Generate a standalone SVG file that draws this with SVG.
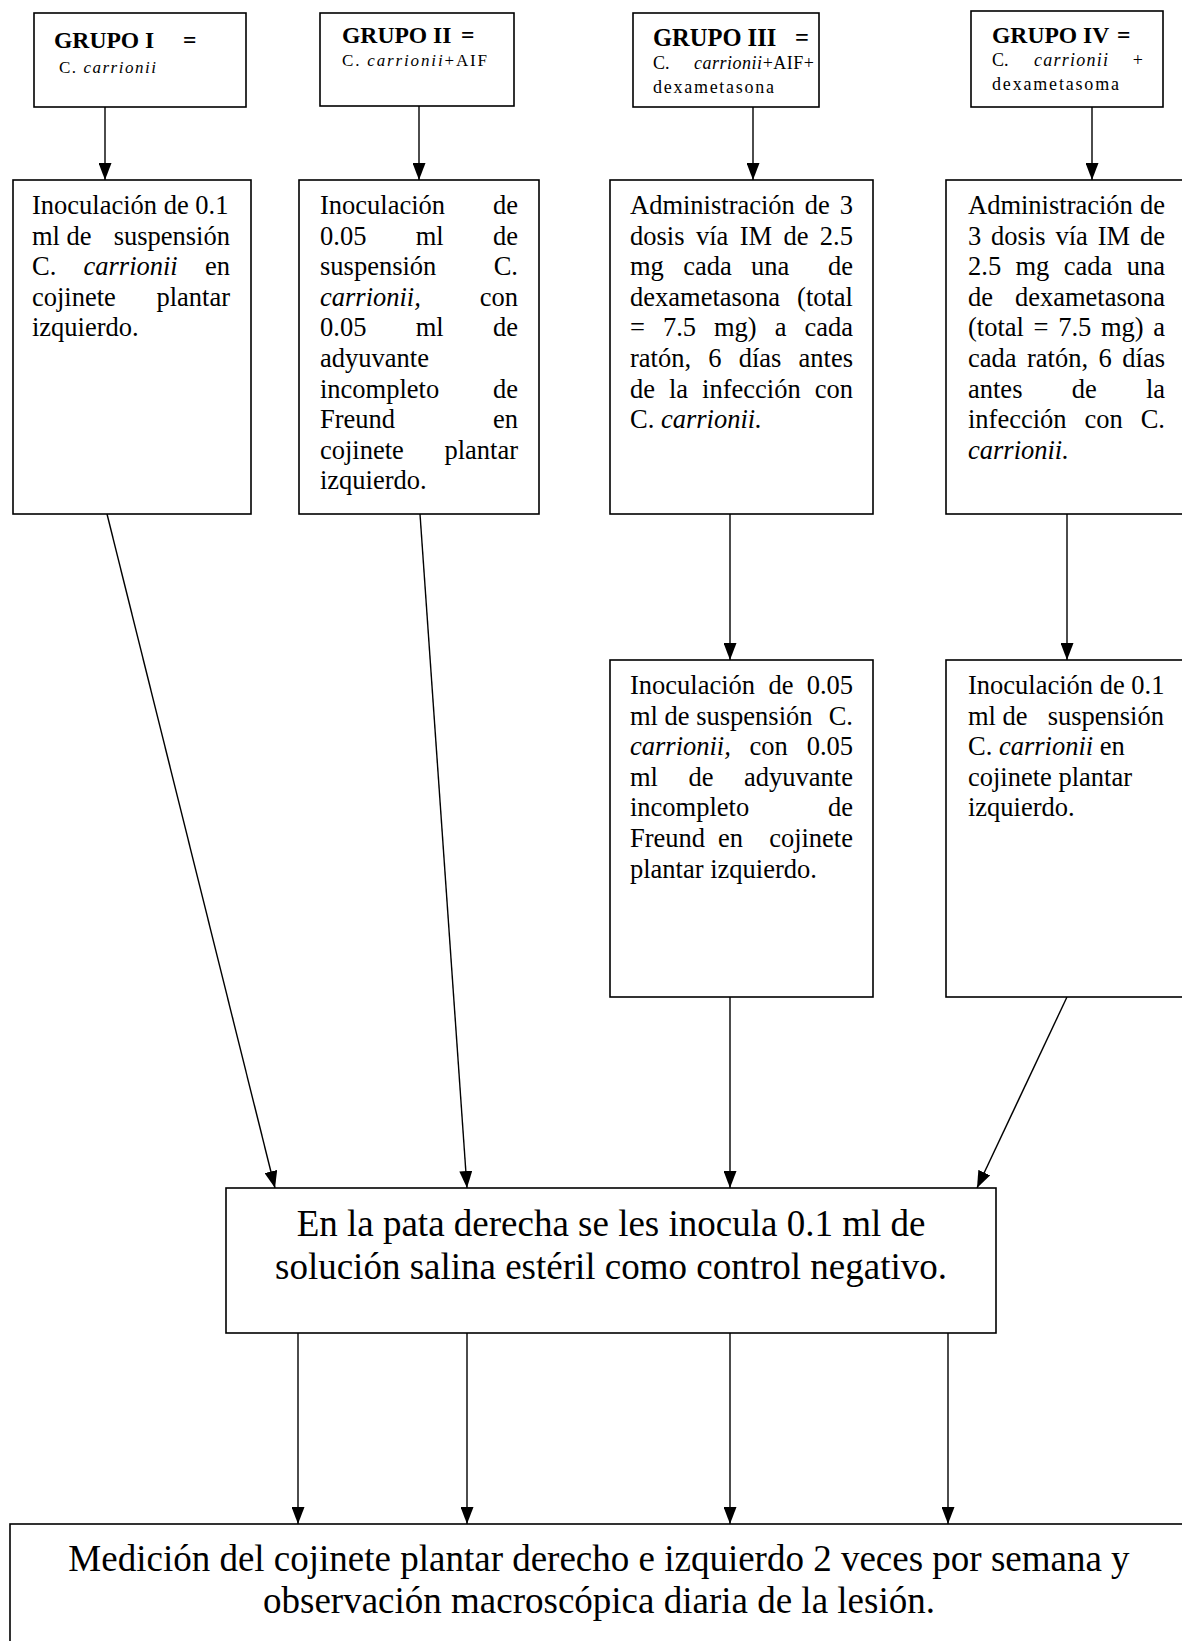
<svg xmlns="http://www.w3.org/2000/svg" width="1182" height="1641" viewBox="0 0 1182 1641">
<defs>
<marker id="ah" markerUnits="userSpaceOnUse" markerWidth="17" markerHeight="13" refX="17" refY="6.5" orient="auto">
<path d="M0,0 L17,6.5 L0,13 z" fill="#000"/>
</marker>
<style>
rect{fill:#fff;stroke:#000;stroke-width:1.6}
.c line{stroke:#000;stroke-width:1.4;marker-end:url(#ah)}
text{font-family:"Liberation Serif","Times New Roman",serif;fill:#000}
.h{font-weight:bold;font-size:23.6px}
.s{font-size:17px}
.t{font-size:26.5px}
.b{font-size:37px;text-anchor:middle}
.e{text-anchor:end}
.i{font-style:italic}
</style>
</defs>
<rect x="0" y="0" width="1182" height="1641" style="stroke:none"/>

<g class="c" id="connectors">
<line x1="105" y1="107" x2="105" y2="180"/>
<line x1="419" y1="106" x2="419" y2="180"/>
<line x1="753" y1="107" x2="753" y2="180"/>
<line x1="1092" y1="107" x2="1092" y2="180"/>
<line x1="730" y1="514" x2="730" y2="660"/>
<line x1="1067" y1="514" x2="1067" y2="660"/>
<line x1="107" y1="514" x2="275" y2="1188"/>
<line x1="420" y1="514" x2="467" y2="1188"/>
<line x1="730" y1="997" x2="730" y2="1188"/>
<line x1="1067" y1="997" x2="977" y2="1188"/>
<line x1="298" y1="1333" x2="298" y2="1524"/>
<line x1="467" y1="1333" x2="467" y2="1524"/>
<line x1="730" y1="1333" x2="730" y2="1524"/>
<line x1="948" y1="1333" x2="948" y2="1524"/>
</g>

<g id="g1">
<rect x="34" y="13" width="212" height="94"/>
<text class="h" x="54" y="48">GRUPO I</text><text class="h" x="183" y="48">=</text>
<text class="s" x="59" y="73" textLength="97" lengthAdjust="spacing">C. <tspan class="i">carrionii</tspan></text>
</g>
<g id="g2">
<rect x="320" y="13" width="194" height="93"/>
<text class="h" x="342" y="43">GRUPO II</text><text class="h" x="461" y="43">=</text>
<text class="s" x="342" y="66" textLength="145" lengthAdjust="spacing">C. <tspan class="i">carrionii</tspan>+AIF</text>
</g>
<g id="g3">
<rect x="633" y="13" width="186" height="94"/>
<text class="h" x="653" y="46" style="font-size:24.5px">GRUPO III</text><text class="h" x="795" y="46" style="font-size:24.5px">=</text>
<text class="s" x="653" y="69" style="font-size:18px">C.</text><text class="s i" x="694" y="69" style="font-size:18px" textLength="120" lengthAdjust="spacing">carrionii<tspan style="font-style:normal">+AIF+</tspan></text>
<text class="s" x="653" y="93" style="font-size:18px" textLength="121" lengthAdjust="spacing">dexametasona</text>
</g>
<g id="g4">
<rect x="971" y="11" width="192" height="96"/>
<text class="h" x="992" y="43">GRUPO IV</text><text class="h" x="1117" y="43">=</text>
<text class="s" x="992" y="66" style="font-size:18px">C.</text><text class="s i" x="1034" y="66" style="font-size:18px" textLength="74" lengthAdjust="spacing">carrionii</text><text class="s" x="1143" y="66" style="font-size:18px" text-anchor="end">+</text>
<text class="s" x="992" y="90" style="font-size:18px" textLength="127" lengthAdjust="spacing">dexametasoma</text>
</g>

<g id="b1">
<rect x="13" y="180" width="238" height="334"/>
<text class="t" x="32" y="214">Inoculación de 0.1</text>
<text class="t" x="32" y="244.6">ml de</text><text class="t e" x="230" y="244.6">suspensión</text>
<text class="t" x="32" y="275.2">C.</text><text class="t i" x="83.5" y="275.2">carrionii</text><text class="t e" x="230" y="275.2">en</text>
<text class="t" x="32" y="305.8">cojinete</text><text class="t e" x="230" y="305.8">plantar</text>
<text class="t" x="32" y="336.4">izquierdo.</text>
</g>

<g id="b2">
<rect x="299" y="180" width="240" height="334"/>
<text class="t" x="320" y="214">Inoculación</text><text class="t e" x="518" y="214">de</text>
<text class="t" x="320" y="244.6">0.05</text><text class="t" x="415.7" y="244.6">ml</text><text class="t e" x="518" y="244.6">de</text>
<text class="t" x="320" y="275.2">suspensión</text><text class="t e" x="518" y="275.2">C.</text>
<text class="t i" x="320" y="305.8">carrionii,</text><text class="t e" x="518" y="305.8">con</text>
<text class="t" x="320" y="336.4">0.05</text><text class="t" x="415.7" y="336.4">ml</text><text class="t e" x="518" y="336.4">de</text>
<text class="t" x="320" y="367">adyuvante</text>
<text class="t" x="320" y="397.6">incompleto</text><text class="t e" x="518" y="397.6">de</text>
<text class="t" x="320" y="428.2">Freund</text><text class="t e" x="518" y="428.2">en</text>
<text class="t" x="320" y="458.8">cojinete</text><text class="t e" x="518" y="458.8">plantar</text>
<text class="t" x="320" y="489.4">izquierdo.</text>
</g>

<g id="b3">
<rect x="610" y="180" width="263" height="334"/>
<text class="t" x="630" y="214" word-spacing="3.3">Administración de 3</text>
<text class="t" x="630" y="244.6" word-spacing="4.77">dosis vía IM de 2.5</text>
<text class="t" x="630" y="275.2">mg</text><text class="t" x="683.2" y="275.2">cada</text><text class="t" x="751.1" y="275.2">una</text><text class="t e" x="853" y="275.2">de</text>
<text class="t" x="630" y="305.8">dexametasona</text><text class="t e" x="853" y="305.8">(total</text>
<text class="t" x="630" y="336.4">=</text><text class="t" x="662.9" y="336.4">7.5</text><text class="t" x="714" y="336.4">mg)</text><text class="t" x="774.7" y="336.4">a</text><text class="t e" x="853" y="336.4">cada</text>
<text class="t" x="630" y="367">ratón,</text><text class="t" x="708.3" y="367">6</text><text class="t" x="738.7" y="367">días</text><text class="t e" x="853" y="367">antes</text>
<text class="t" x="630" y="397.6">de</text><text class="t" x="669" y="397.6">la</text><text class="t" x="702.1" y="397.6">infección</text><text class="t e" x="853" y="397.6">con</text>
<text class="t" x="630" y="428.2">C. <tspan class="i">carrionii.</tspan></text>
</g>

<g id="b4">
<rect x="946" y="180" width="250" height="334"/>
<text class="t" x="968" y="214">Administración</text><text class="t e" x="1165" y="214">de</text>
<text class="t" x="968" y="244.6">3</text><text class="t" x="991.1" y="244.6">dosis</text><text class="t" x="1055.5" y="244.6">vía</text><text class="t" x="1097.8" y="244.6">IM</text><text class="t e" x="1165" y="244.6">de</text>
<text class="t" x="968" y="275.2">2.5</text><text class="t" x="1015.5" y="275.2">mg</text><text class="t" x="1063.8" y="275.2">cada</text><text class="t e" x="1165" y="275.2">una</text>
<text class="t" x="968" y="305.8">de</text><text class="t e" x="1165" y="305.8">dexametasona</text>
<text class="t" x="968" y="336.4">(total</text><text class="t" x="1033.6" y="336.4">=</text><text class="t" x="1058.2" y="336.4">7.5</text><text class="t" x="1101" y="336.4">mg)</text><text class="t e" x="1165" y="336.4">a</text>
<text class="t" x="968" y="367">cada</text><text class="t" x="1027" y="367">ratón,</text><text class="t" x="1098.6" y="367">6</text><text class="t e" x="1165" y="367">días</text>
<text class="t" x="968" y="397.6">antes</text><text class="t" x="1071.7" y="397.6">de</text><text class="t e" x="1165" y="397.6">la</text>
<text class="t" x="968" y="428.2">infección</text><text class="t" x="1084.5" y="428.2">con</text><text class="t e" x="1165" y="428.2">C.</text>
<text class="t i" x="968" y="458.8">carrionii.</text>
</g>

<g id="b3b">
<rect x="610" y="660" width="263" height="337"/>
<text class="t" x="630" y="694">Inoculación</text><text class="t" x="768.4" y="694">de</text><text class="t e" x="853" y="694">0.05</text>
<text class="t" x="630" y="724.6">ml de suspensión</text><text class="t e" x="853" y="724.6">C.</text>
<text class="t i" x="630" y="755.2">carrionii,</text><text class="t" x="749.6" y="755.2">con</text><text class="t e" x="853" y="755.2">0.05</text>
<text class="t" x="630" y="785.8">ml</text><text class="t" x="688.5" y="785.8">de</text><text class="t e" x="853" y="785.8">adyuvante</text>
<text class="t" x="630" y="816.4">incompleto</text><text class="t e" x="853" y="816.4">de</text>
<text class="t" x="630" y="847">Freund</text><text class="t" x="718" y="847">en</text><text class="t e" x="853" y="847">cojinete</text>
<text class="t" x="630" y="877.6">plantar izquierdo.</text>
</g>

<g id="b4b">
<rect x="946" y="660" width="250" height="337"/>
<text class="t" x="968" y="694">Inoculación de 0.1</text>
<text class="t" x="968" y="724.6">ml de</text><text class="t e" x="1164" y="724.6">suspensión</text>
<text class="t" x="968" y="755.2">C. <tspan class="i">carrionii</tspan> en</text>
<text class="t" x="968" y="785.8">cojinete plantar</text>
<text class="t" x="968" y="816.4">izquierdo.</text>
</g>

<g id="b5">
<rect x="226" y="1188" width="770" height="145"/>
<text class="b" x="611" y="1236">En la pata derecha  se les inocula 0.1 ml de</text>
<text class="b" x="611" y="1279">solución salina estéril como control negativo.</text>
</g>

<g id="b6">
<rect x="10" y="1524" width="1190" height="140"/>
<text class="b" x="599" y="1571">Medición del cojinete plantar derecho e izquierdo 2 veces por semana y</text>
<text class="b" x="599" y="1613">observación macroscópica diaria de la lesión.</text>
</g>
</svg>
